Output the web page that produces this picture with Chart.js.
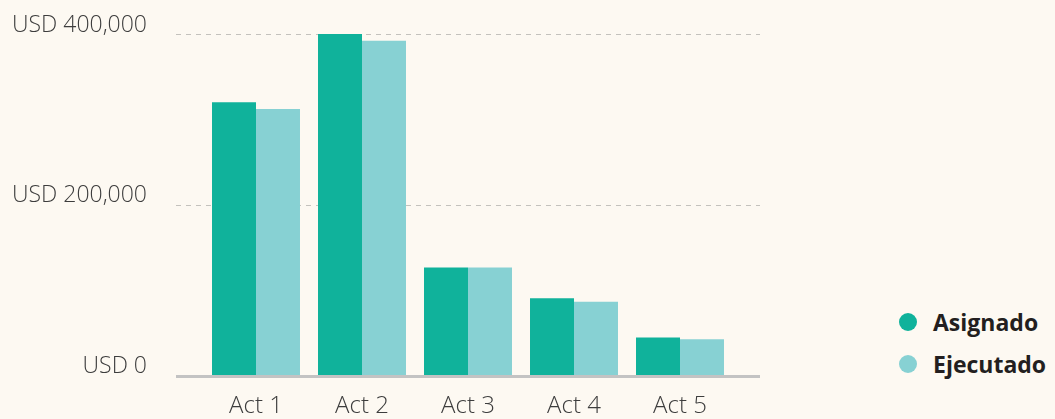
<!DOCTYPE html>
<html>
<head>
<meta charset="utf-8">
<script src="https://cdn.jsdelivr.net/npm/chart.js@4"></script>
<style>
    body { margin: 0; background: #fdf9f2; }
    #wrap { position: relative; width: 1055px; height: 419px; overflow: hidden; }
    #box { position: absolute; left: 0; top: 0; width: 760px; height: 419px; }
    #legend { position: absolute; left: 899px; top: 308px; font-family: "Open Sans", sans-serif; font-weight: 700; font-size: 23px; color: #231f20; }
    .item { display: flex; align-items: center; height: 28px; margin-bottom: 14px; }
    .dot { width: 18px; height: 18px; border-radius: 50%; margin-right: 16px; flex: none; }
</style>
</head>
<body>
<div id="wrap">
    <div id="box"><canvas id="chart"></canvas></div>
    <div id="legend"></div>
</div>
<script>
const categories = ['Act 1', 'Act 2', 'Act 3', 'Act 4', 'Act 5'];
const asignado = [320000, 400000, 126000, 90000, 44000];
const ejecutado = [312000, 392000, 126000, 86000, 42000];
const yTicks = [0, 200000, 400000];

const tealDark = '#10b29b';
const tealLight = '#87d1d3';

// dashed grid + baseline reach a bit past the bars on both sides
const gridPlugin = {
    id: 'gridPlugin',
    beforeDatasetsDraw(chart) {
        const ctx = chart.ctx;
        const area = chart.chartArea;
        const y = chart.scales.y;
        const left = area.left - 27;
        const right = area.right + 27;
        ctx.save();
        ctx.strokeStyle = '#c4c2bd';
        ctx.lineWidth = 1;
        ctx.setLineDash([5, 5]);
        yTicks.filter(v => v > 0).forEach(v => {
            const py = Math.round(y.getPixelForValue(v)) + 0.5;
            ctx.beginPath();
            ctx.moveTo(left, py);
            ctx.lineTo(right, py);
            ctx.stroke();
        });
        ctx.setLineDash([]);
        ctx.strokeStyle = '#c3c3c3';
        ctx.lineWidth = 3;
        const py0 = y.getPixelForValue(0) + 1.5;
        ctx.beginPath();
        ctx.moveTo(left, py0);
        ctx.lineTo(right, py0);
        ctx.stroke();
        ctx.restore();
    }
};

const chart = new Chart(document.getElementById('chart'), {
    type: 'bar',
    data: {
        labels: categories,
        datasets: [
            { label: 'Asignado', data: asignado, backgroundColor: tealDark },
            { label: 'Ejecutado', data: ejecutado, backgroundColor: tealLight }
        ]
    },
    options: {
        responsive: true,
        maintainAspectRatio: false,
        animation: false,
        barPercentage: 1,
        categoryPercentage: 0.83,
        layout: { padding: { top: 34, right: 27, left: 0, bottom: 0 } },
        plugins: {
            legend: { display: false },
            tooltip: { enabled: false }
        },
        scales: {
            x: {
                grid: { display: false, drawTicks: false },
                border: { display: false },
                ticks: {
                    color: '#3d3d3d',
                    padding: 17,
                    font: { family: 'Open Sans', size: 24, weight: '300' }
                },
                afterFit: axis => {
                    axis.height = 44;
                    axis.paddingLeft = 0;
                    axis.paddingRight = 0;
                }
            },
            y: {
                min: 0,
                max: 400000,
                afterBuildTicks: axis => { axis.ticks = yTicks.map(v => ({ value: v })); },
                grid: { display: false, drawTicks: false },
                border: { display: false },
                ticks: {
                    color: '#3d3d3d',
                    padding: 56,
                    labelOffset: -9,
                    font: { family: 'Open Sans', size: 23, weight: '300' },
                    callback: v => 'USD ' + v.toLocaleString('en-US')
                },
                afterFit: axis => {
                    axis.width = 203;
                    axis.paddingTop = 0;
                    axis.paddingBottom = 0;
                }
            }
        }
    },
    plugins: [gridPlugin]
});

// legend as html, built from the datasets
const legend = document.getElementById('legend');
chart.data.datasets.forEach(ds => {
    const item = document.createElement('div');
    item.className = 'item';
    item.innerHTML = `<span class="dot" style="background:${ds.backgroundColor}"></span><span>${ds.label}</span>`;
    legend.appendChild(item);
});
</script>
</body>
</html>
